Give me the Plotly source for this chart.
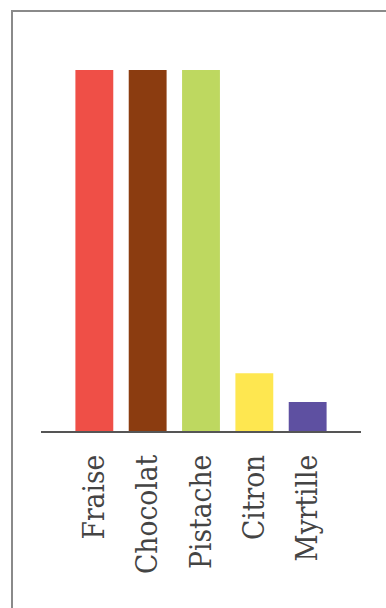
import plotly.graph_objects as go

categories = ["Fraise", "Chocolat", "Pistache", "Citron", "Myrtille"]
values = [25, 25, 25, 4, 2]
colors = ["#EF4F47", "#8B3C10", "#BED860", "#FEE750", "#5E50A1"]

W, H = 386, 608
L, R, T, B = 41, 25, 70, 177

fig = go.Figure(go.Bar(
    x=categories, y=values, marker=dict(color=colors, line=dict(width=0)),
    width=0.71, hoverinfo="skip",
))

fig.update_layout(
    width=W, height=H,
    margin=dict(l=L, r=R, t=T, b=B, autoexpand=False),
    paper_bgcolor="white", plot_bgcolor="white",
    showlegend=False,
    xaxis=dict(
        type="category", range=[-1, 5], showgrid=False, zeroline=False,
        showline=True, linecolor="#555555", linewidth=2,
        ticks="outside", ticklen=10, tickcolor="rgba(0,0,0,0)",
        tickangle=-90,
        tickfont=dict(family="DejaVu Serif Condensed, DejaVu Serif, serif", size=29.5, color="#444444"),
    ),
    yaxis=dict(range=[0, 25], visible=False, showgrid=False, zeroline=False),
    shapes=[dict(
        type="rect", xref="paper", yref="paper",
        x0=(12 - L) / (W - L - R), x1=1.3,
        y0=-0.7, y1=(H - B - 11) / (H - T - B),
        line=dict(color="#8a8a8a", width=2), fillcolor="rgba(0,0,0,0)", layer="below",
    )],
)

fig.write_html("out.html")
